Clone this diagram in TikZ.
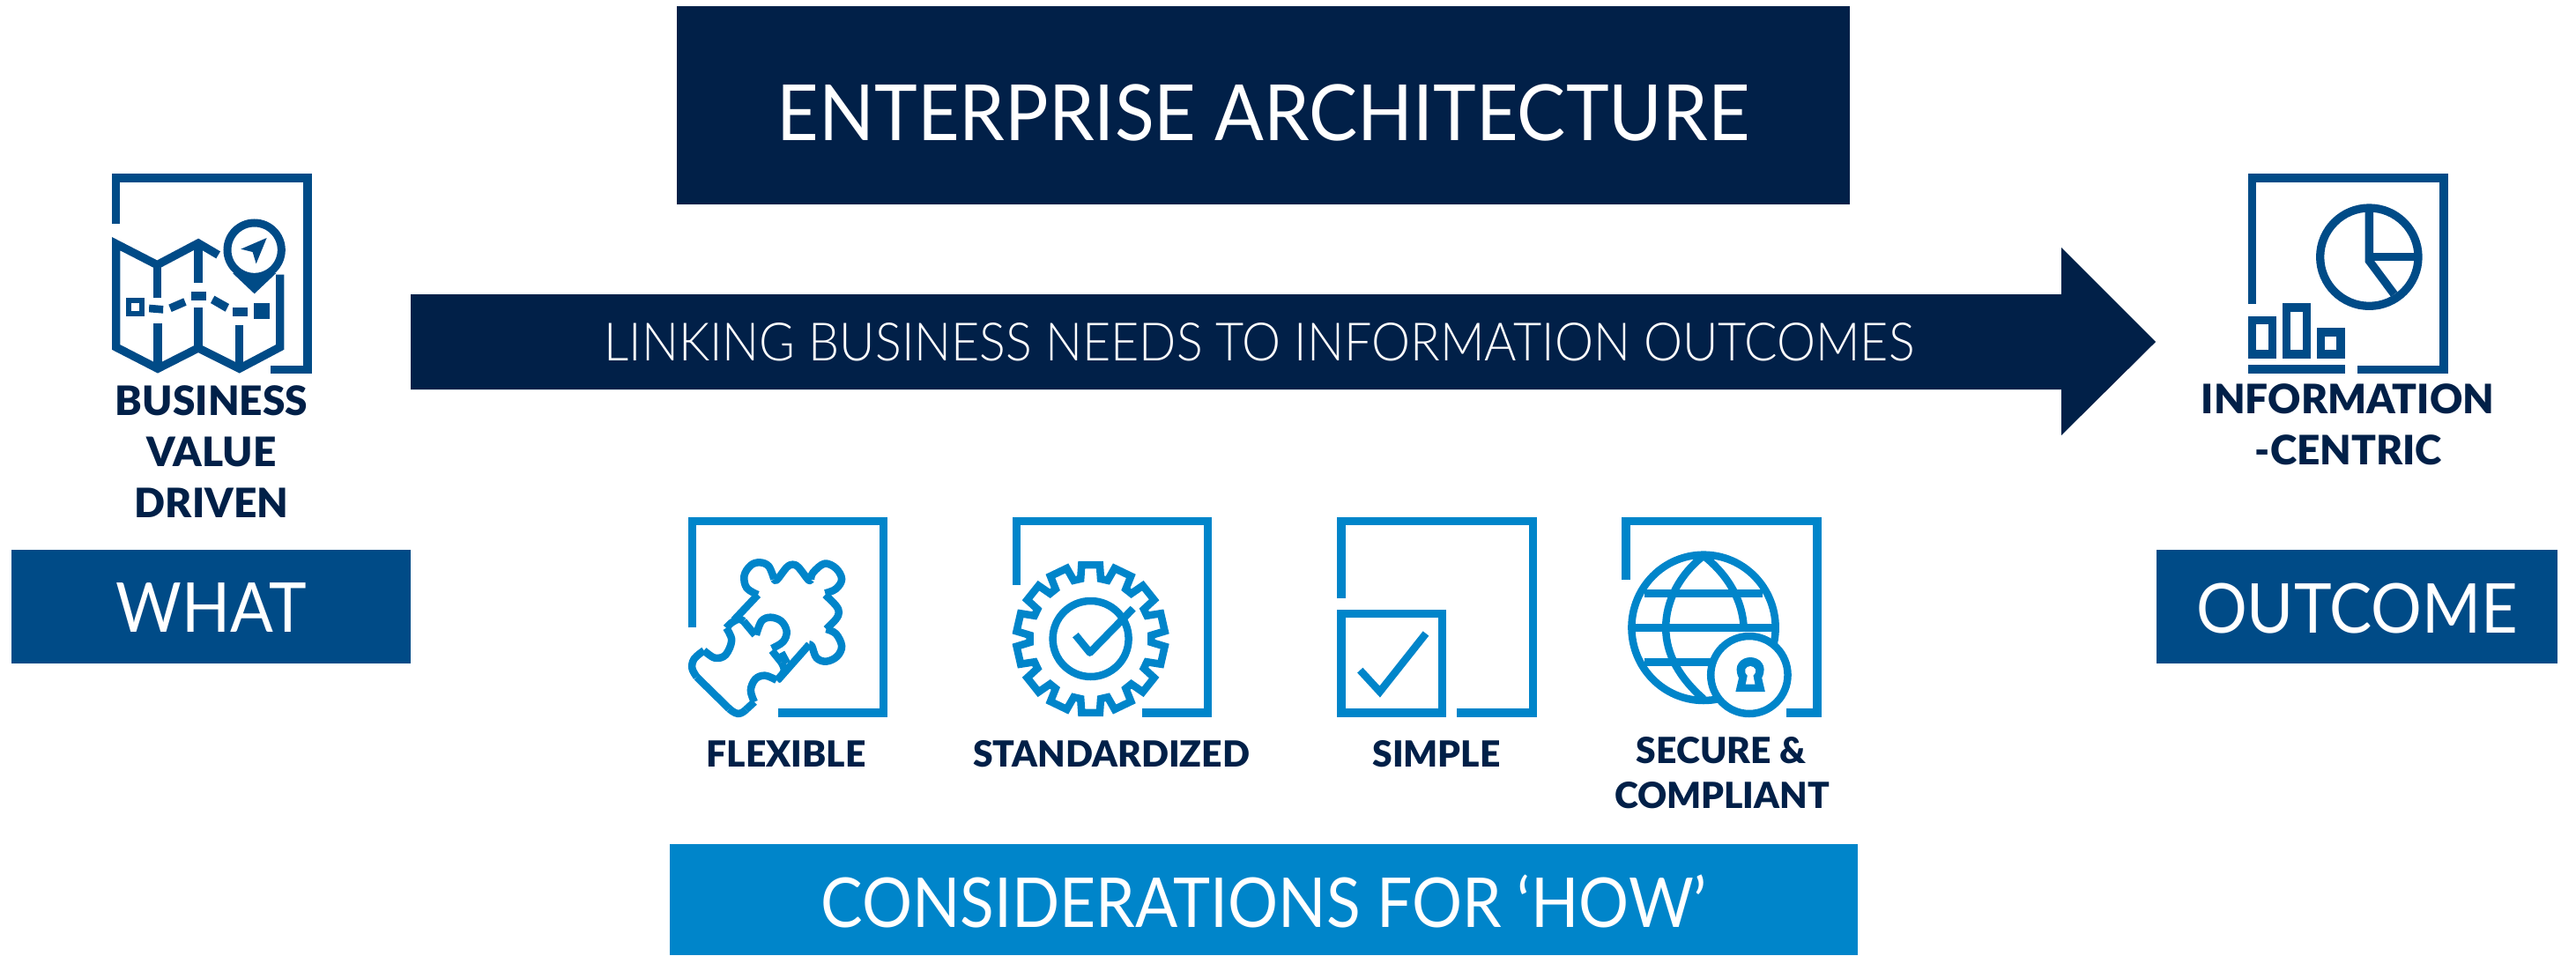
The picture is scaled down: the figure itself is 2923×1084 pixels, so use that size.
\documentclass[tikz,border=0pt]{standalone}
\usepackage{fontspec}
\newfontfamily\regf[FakeStretch=0.925]{Lato}
\newfontfamily\regwide[FakeStretch=0.937]{Lato}
\newfontfamily\regnarrow[FakeStretch=0.913]{Lato}
\newfontfamily\lightf[FakeStretch=0.926]{Lato Light}
\newfontfamily\blackf{Lato Black}
\definecolor{navy}{RGB}{1,32,72}
\definecolor{midblue}{RGB}{0,75,135}
\definecolor{lightblue}{RGB}{0,133,202}
\def\px{0.71125pt}
\newcommand{\fsz}[1]{\fontsize{#1}{#1}\selectfont}
\newcommand{\lowered}[2]{\raisebox{-#1}[\height][0pt]{#2}}
\tikzset{
  x=0.025cm,y=-0.025cm,
  banner/.style={inner sep=0pt,text=white,align=center},
  heavy/.style={text=navy,inner sep=0pt,anchor=base,font=\blackf\fsz{32.7pt}},
  heavysm/.style={text=navy,inner sep=0pt,anchor=base,font=\blackf\fsz{29pt}},
  icon/.style={line width=9.3*\px,line cap=butt,line join=miter,miter limit=10},
  midicon/.style={icon,draw=midblue},
  lighticon/.style={icon,draw=lightblue},
  thin light/.style={draw=lightblue,line width=8.5*\px,line join=round,line cap=butt},
  zthree/.style={shift={(0,170)},xscale=1/3,yscale=1/3},
  zpie/.style={shift={(2450,170)},xscale=1/3,yscale=1/3},
  zflex/.style={shift={(760,570)},xscale=1/2.45,yscale=1/3},
  zsec/.style={shift={(1480,570)},xscale=1/2.45,yscale=1/3},
}
\begin{document}
\begin{tikzpicture}
\useasboundingbox (0,0) rectangle (2923,1084);
\fill[white] (0,0) rectangle (2923,1084);

% banners
\node[banner,fill=navy,minimum width=1331*\px,minimum height=224*\px] (ea) at (1433.5,119.5) {\regwide\fsz{62.6pt}\lowered{5.5pt}{ENTERPRISE ARCHITECTURE}};
\node[banner,fill=midblue,minimum width=453*\px,minimum height=129*\px] (what) at (239.5,688.5) {\regf\fsz{55.5pt}\lowered{1pt}{WHAT}};
\node[banner,fill=midblue,minimum width=455*\px,minimum height=129*\px] (outcome) at (2674.5,688.5) {\regf\fsz{55.5pt}\lowered{1pt}{OUTCOME}};
\node[banner,fill=lightblue,minimum width=1348*\px,minimum height=126*\px] (how) at (1434,1021) {\regnarrow\fsz{55.5pt}\lowered{1pt}{CONSIDERATIONS FOR ‘HOW’}};

% arrow
\fill[navy] (466,334) -- (2339,334) -- (2339,281) -- (2446,388) -- (2339,494) -- (2339,442) -- (466,442) -- cycle;
\node[inner sep=0pt,text=white] (link) at (1429,388) {\lightf\fsz{42.7pt}LINKING BUSINESS NEEDS TO INFORMATION OUTCOMES};

% map icon
\begin{scope}[zthree]
\draw[midicon] (395,252) -- (395,96) -- (1047,96) -- (1047,748) -- (922,748);
\draw[midicon] (743,358) -- (675,318) -- (535,392) -- (395,320) -- (395,672) -- (537,745) -- (675,675) -- (815,745) -- (953,672) -- (953,425);
\draw[midicon] (535,392) -- (535,505);
\draw[midicon] (537,590) -- (537,745);
\draw[midicon] (675,318) -- (675,452);
\draw[midicon] (675,538) -- (675,675);
\draw[midicon] (815,598) -- (815,745);
\draw[midblue,line width=6*\px] (438,513) rectangle (484,558);
\fill[midblue] (508,527) -- (556,531) -- (555,557) -- (507,553) -- cycle;
\fill[midblue] (574,527) -- (625,505) -- (635,530) -- (584,552) -- cycle;
\fill[midblue] (651,482) rectangle (702,513);
\fill[midblue] (730,497) -- (780,525) -- (767,551) -- (717,522) -- cycle;
\fill[midblue] (792,537) rectangle (843,567);
\fill[midblue] (865,522) rectangle (918,575);
\draw[midblue,line width=9*\px,fill=white] (866,341) circle [radius=92];
\fill[midblue] (792,420) -- (866,490) -- (940,420) -- (866,432) -- cycle;
\fill[midblue] (908,300) -- (820,338) -- (860,348) -- (872,388) -- cycle;
\end{scope}

% pie icon
\begin{scope}[zpie]
\draw[midicon] (317,525) -- (317,96) -- (969,96) -- (969,748) -- (675,748);
\draw[midicon] (317,581) rectangle (385,696);
\draw[midicon] (434,537) rectangle (502,696);
\draw[midicon] (550,621) rectangle (618,696);
\draw[midicon] (303,747) -- (633,747);
\draw[midicon] (715,365) circle [radius=167];
\draw[midicon] (715,200) -- (715,378) -- (800,492);
\draw[midicon] (715,365) -- (880,365);
\end{scope}

% puzzle icon
\begin{scope}[zflex]
\draw[lighticon] (62,427) -- (62,65) -- (594,65) -- (594,717) -- (301,717);
\draw[thin light] plot[smooth,tension=0.6] coordinates {(245,315) (214,292) (207,250) (225,215) (250,205) (275,218) (290,262)};
\draw[thin light] (178,402) -- (245,315);
\draw[thin light] plot[smooth,tension=0.6] coordinates {(290,262) (298,264) (325,222) (342,212) (358,222) (385,264) (392,264)};
\draw[thin light] plot[smooth,tension=0.6] coordinates {(392,264) (398,240) (430,209) (462,225) (478,262) (462,295) (432,310)};
\draw[thin light] plot[smooth,tension=0.6] coordinates {(432,315) (462,352) (470,375) (462,398) (435,432)};
\draw[thin light] plot[smooth,tension=0.6] coordinates {(435,432) (462,448) (478,490) (465,525) (435,542) (408,530) (395,490) (388,484)};
\draw[thin light] (388,484) -- (300,606);
\draw[thin light] (310,512) -- (326,548);
\draw[thin light] plot[smooth,tension=0.6] coordinates {(157,428) (172,470) (155,520) (125,530) (95,505)};
\draw[thin light] plot[smooth,tension=0.6] coordinates {(95,505) (68,533) (62,565) (75,595)};
\draw[thin light] (75,595) -- (165,703);
\draw[thin light] plot[smooth,tension=0.8] coordinates {(165,703) (190,720) (212,706)};
\draw[thin light] (212,706) -- (235,680);
\draw[thin light] plot[smooth,tension=0.6] coordinates {(235,680) (225,640) (238,602) (265,590) (297,606)};
\draw[thin light] plot[smooth,tension=0.6] coordinates {(297,606) (318,575) (310,545)};
\draw[thin light] (310,545) -- (284,505);
\draw[thin light] plot[smooth,tension=0.6] coordinates {(284,498) (315,475) (325,440) (310,405) (280,392) (255,405) (240,452)};
\draw[thin light] (237,452) -- (205,405);
\draw[thin light] plot[smooth,tension=0.6] coordinates {(205,405) (192,398) (172,410) (157,428)};
\end{scope}

% gear icon
\begin{scope}[zflex]
\draw[lighticon] (964,282) -- (964,65) -- (1496,65) -- (1496,717) -- (1312,717);
\draw[thin light] (1128,452) -- (1168,512) -- (1288,362);
\end{scope}
\begin{scope}[shift={(1237.6,725)}]
\draw[thin light,fill=none,line join=miter]
  (83:84.5) \foreach \i in {0,...,13}{
    -- ({90+\i*25.714-7}:84.5) -- ({90+\i*25.714+7}:84.5)
    -- ({90+\i*25.714+9.5}:69) -- ({90+\i*25.714+16.2}:69) } -- cycle;
\draw[thin light] (0,0) circle [radius=43];
\end{scope}

% simple icon
\begin{scope}[zsec]
\draw[lighticon] (103,327) -- (103,65) -- (635,65) -- (635,717) -- (425,717);
\draw[lighticon] (103,380) rectangle (383,717);
\draw[thin light,line join=miter] (155,572) -- (210,645) -- (338,447);
\end{scope}

% globe icon
\begin{scope}[zsec]
\draw[lighticon] (894,265) -- (894,65) -- (1426,65) -- (1426,717) -- (1340,717);
\draw[thin light] (1110,427) circle [x radius=200,y radius=248];
\draw[thin light] (945,310) -- (1275,310);
\draw[thin light] (910,427) -- (1310,427);
\draw[thin light] (945,545) -- (1135,545);
\draw[thin light] (1110,182) .. controls (1040,250) and (1005,340) .. (1005,427) .. controls (1005,520) and (1045,600) .. (1110,670);
\draw[thin light] (1110,182) .. controls (1180,250) and (1222,340) .. (1222,440);
\draw[thin light,fill=white] (1237,588) circle [x radius=107,y radius=132];
\fill[lightblue] (1199,645) -- (1208,598) .. controls (1190,555) and (1215,528) .. (1240,528) .. controls (1265,528) and (1290,555) .. (1272,598) -- (1281,645) -- cycle;
\fill[white] (1227,620) -- (1232,590) .. controls (1218,575) and (1228,558) .. (1240,558) .. controls (1252,558) and (1262,575) .. (1248,590) -- (1253,620) -- cycle;
\end{scope}

% labels
\node[heavy] (bvd1) at (240,471.7) {BUSINESS};
\node[heavy] (bvd2) at (240,529.5) {VALUE};
\node[heavy] (bvd3) at (240,587) {DRIVEN};
\node[heavy] (info1) at (2664,469) {INFORMATION};
\node[heavy] (info2) at (2665,527) {-CENTRIC};
\node[heavysm] (flex) at (892,870) {FLEXIBLE};
\node[heavysm] (std) at (1261,870) {STANDARDIZED};
\node[heavysm] (simp) at (1630,870) {SIMPLE};
\node[heavysm] (sec1) at (1953,866) {SECURE \&};
\node[heavysm] (sec2) at (1954,917) {COMPLIANT};
\end{tikzpicture}
\end{document}
